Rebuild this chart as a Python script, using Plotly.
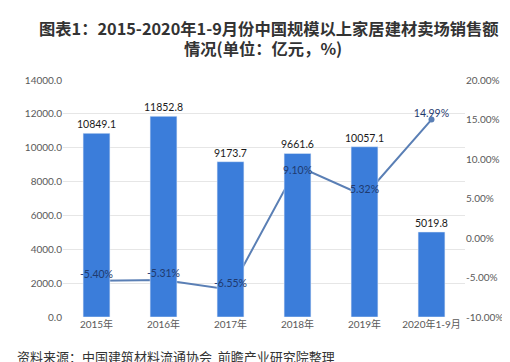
import plotly.graph_objects as go

years = ["2015年", "2016年", "2017年", "2018年", "2019年", "2020年1-9月"]
sales = [10849.1, 11852.8, 9173.7, 9661.6, 10057.1, 5019.8]
growth = [-5.40, -5.31, -6.55, 9.10, 5.32, 14.99]
growth_pos = ["top center", "top center", "top center", "bottom center", "top center", "top center"]
left_ticks = [0, 2000, 4000, 6000, 8000, 10000, 12000, 14000]
right_ticks = [-10, -5, 0, 5, 10, 15, 20]

title_line1 = "图表1：2015-2020年1-9月份中国规模以上家居建材卖场销售额"
title_line2 = "情况(单位：亿元，%)"
source_text = "资料来源：中国建筑材料流通协会  前瞻产业研究院整理"

NUM_FONT = "Lato, Noto Sans CJK SC"
CJK_FONT = "Noto Sans CJK SC"

PLOT_L, PLOT_R, PLOT_T, PLOT_B = 55, 457, 72, 309
PW, PH = PLOT_R - PLOT_L, PLOT_B - PLOT_T


def px_x(x):
    return (x - PLOT_L) / PW


def px_y(y):
    return (PLOT_B - y) / PH


fig = go.Figure()

fig.add_trace(go.Scatter(
    x=years, y=growth, mode="lines+markers", yaxis="y2", zorder=0,
    line=dict(color="#5A7FB5", width=2),
    marker=dict(size=6, color="#5A7FB5"),
    showlegend=False, hoverinfo="skip",
))

fig.add_trace(go.Bar(
    x=years, y=sales, yaxis="y", zorder=1,
    marker=dict(color="#3B7DDA"),
    text=[f"{v:.1f}" for v in sales], textposition="outside",
    constraintext="none",
    textfont=dict(family=NUM_FONT, size=10.5, color="#1a1a1a"),
    cliponaxis=False, showlegend=False,
))

fig.add_trace(go.Scatter(
    x=years, y=growth, mode="text", yaxis="y3", zorder=2,
    text=[f"{v:.2f}%" for v in growth], textposition=growth_pos,
    textfont=dict(family=NUM_FONT, size=10.5, color="#1F3A6E"),
    showlegend=False, hoverinfo="skip", cliponaxis=False,
))

fig.update_layout(
    width=510, height=362,
    margin=dict(l=PLOT_L, r=510 - PLOT_R, t=PLOT_T, b=362 - PLOT_B),
    paper_bgcolor="white", plot_bgcolor="white",
    bargap=0.6,
    xaxis=dict(showgrid=False, showline=False, ticks="",
               tickfont=dict(family=NUM_FONT, size=10, color="#595959")),
    yaxis=dict(side="left", range=[0, 14000], tickvals=left_ticks,
               ticktext=[f"{v:.1f}" for v in left_ticks],
               showgrid=True, gridcolor="#E6E6E6", gridwidth=1, zeroline=False,
               showline=False, ticks="",
               tickfont=dict(family=NUM_FONT, size=10, color="#595959")),
    yaxis2=dict(overlaying="y", side="right", range=[-10, 20], tickvals=right_ticks,
                ticktext=[f"{v:.2f}%" for v in right_ticks],
                showgrid=False, zeroline=False, showline=False, ticks="",
                tickfont=dict(family=NUM_FONT, size=10, color="#595959")),
    yaxis3=dict(overlaying="y", range=[-10, 20], visible=False),
    annotations=[
        dict(text="<b>" + title_line1 + "</b>", xref="paper", yref="paper",
             x=px_x(261), y=px_y(20), xanchor="center", yanchor="middle",
             showarrow=False,
             font=dict(family=CJK_FONT, size=16.3, color="#333333")),
        dict(text="<b>" + title_line2 + "</b>", xref="paper", yref="paper",
             x=px_x(255), y=px_y(39.5), xanchor="center", yanchor="middle",
             showarrow=False,
             font=dict(family=CJK_FONT, size=16.3, color="#333333")),
        dict(text=source_text, xref="paper", yref="paper",
             x=px_x(7), y=px_y(348.5), xanchor="left", yanchor="middle",
             showarrow=False,
             font=dict(family=CJK_FONT, size=13, color="#333333")),
    ],
)

fig.write_html("out.html")
